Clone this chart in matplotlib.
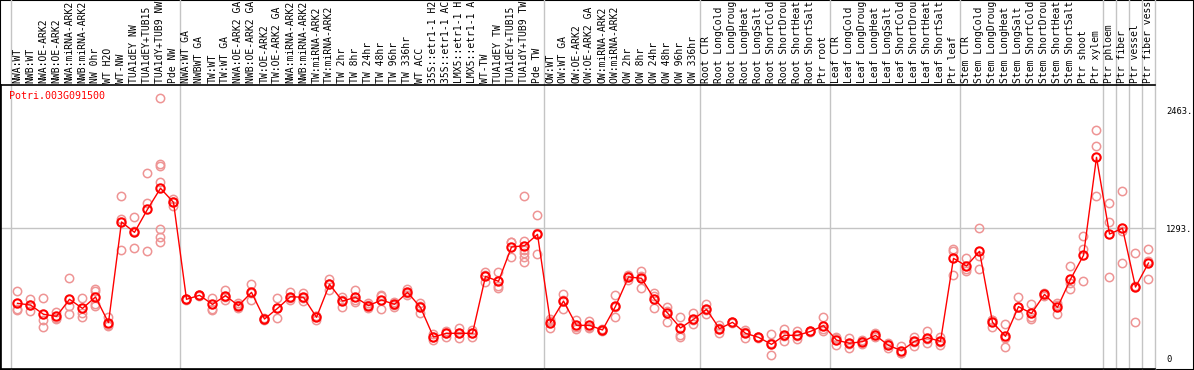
import matplotlib
matplotlib.use('Agg')
import matplotlib.pyplot as plt
import matplotlib.transforms as mtransforms
import numpy as np

gene = 'Potri.003G091500'

labels = [
    'NWA:WT', 'NWB:WT', 'NWA:OE-ARK2', 'NWB:OE-ARK2', 'NWA:miRNA-ARK2', 'NWB:miRNA-ARK2',
    'NW 0hr', 'WT H2O', 'WT-NW', 'TUA1dEY NW', 'TUA1dEY+TUB15 NW', 'TUA1dY+TUB9 NW', 'Pde NW',
    'NWA:WT GA', 'NWBWT GA', 'TW:WT', 'TW:WT GA', 'NWA:OE-ARK2 GA', 'NWB:OE-ARK2 GA',
    'TW:OE-ARK2', 'TW:OE-ARK2 GA', 'NWA:miRNA-ARK2 GA', 'NWB:miRNA-ARK2 GA', 'TW:miRNA-ARK2',
    'TW:miRNA-ARK2 GA', 'TW 2hr', 'TW 8hr', 'TW 24hr', 'TW 48hr', 'TW 96hr', 'TW 336hr',
    'WT ACC', '35S::etr1-1 H2O', '35S::etr1-1 ACC', 'LMX5::etr1-1 H2O', 'LMX5::etr1-1 ACC',
    'WT-TW', 'TUA1dEY TW', 'TUA1dEY+TUB15 TW', 'TUA1dY+TUB9 TW', 'Pde TW',
    'OW:WT', 'OW:WT GA', 'OW:OE-ARK2', 'OW:OE-ARK2 GA', 'OW:miRNA-ARK2', 'OW:miRNA-ARK2 GA',
    'OW 2hr', 'OW 8hr', 'OW 24hr', 'OW 48hr', 'OW 96hr', 'OW 336hr',
    'Root CTR', 'Root LongCold', 'Root LongDrought', 'Root LongHeat', 'Root LongSalt',
    'Root ShortCold', 'Root ShortDrought', 'Root ShortHeat', 'Root ShortSalt', 'Ptr root',
    'Leaf CTR', 'Leaf LongCold', 'Leaf LongDrought', 'Leaf LongHeat', 'Leaf LongSalt',
    'Leaf ShortCold', 'Leaf ShortDrought', 'Leaf ShortHeat', 'Leaf ShortSalt', 'Ptr leaf',
    'Stem CTR', 'Stem LongCold', 'Stem LongDrought', 'Stem LongHeat', 'Stem LongSalt',
    'Stem ShortCold', 'Stem ShortDrought', 'Stem ShortHeat', 'Stem ShortSalt', 'Ptr shoot',
    'Ptr xylem', 'Ptr phloem', 'Ptr fiber', 'Ptr vessel', 'Ptr fiber vessel',
]

group_sizes = [13, 28, 12, 10, 10, 11, 1, 1, 1, 1]

means = [
    544, 527, 435, 415, 584, 494, 607, 352, 1353, 1250, 1479, 1688, 1548,
    584, 624, 534, 620, 521, 653, 388, 494, 610, 604, 405, 733, 567, 604, 521, 577,
    534, 653, 504, 209, 246, 246, 246, 812, 763, 1104, 1117, 1230,
    352, 567, 325, 325, 279, 514, 806, 793, 584, 448, 299, 385,
    484, 292, 355, 246, 206, 136, 226, 226, 265, 322,
    179, 146, 163, 226, 126, 73, 166, 203, 166, 991,
    915, 1061, 355, 216, 511, 444, 633, 504, 783, 1021, 1996,
    1233, 1290, 706, 945,
]

reps = [
    [667, 484, 481], [587, 523, 471], [594, 378, 305], [461, 400, 385], [793, 517, 435],
    [594, 445, 405], [686, 670, 537, 521], [411, 327, 318], [1608, 1386, 1071],
    [1399, 1260, 1091], [1837, 1538, 1061], [2583, 1926, 1913, 1751, 1283, 1207, 1157],
    [1582, 1550, 1512],
    [590, 584, 577], [627, 624, 620], [594, 491, 478], [677, 606, 577], [544, 525, 494],
    [733, 650, 577], [395, 388, 380], [594, 494, 395], [653, 600, 577], [643, 600, 570],
    [420, 418, 378], [786, 736, 677], [610, 580, 511], [677, 574, 561], [544, 525, 494],
    [627, 613, 491], [561, 530, 511], [686, 646, 627], [544, 517, 451], [239, 209, 179],
    [272, 253, 213], [295, 247, 196], [279, 246, 213], [852, 828, 756], [852, 716, 700],
    [1151, 1153, 1008], [1608, 1164, 1074, 1041, 1008, 952], [1419, 1240, 1031],
    [385, 369, 302], [633, 580, 488], [378, 312, 285], [372, 308, 295], [285, 279, 273],
    [627, 510, 405], [826, 816, 776], [869, 817, 693], [643, 615, 494], [511, 471, 362],
    [411, 229, 213], [445, 375, 335],
    [537, 480, 435], [328, 302, 246], [362, 355, 348], [279, 263, 196], [210, 206, 196],
    [236, 145, 27], [292, 220, 166], [272, 217, 189], [272, 265, 258], [405, 289, 272],
    [211, 196, 130], [196, 139, 103], [179, 174, 136], [245, 226, 209], [146, 136, 96],
    [123, 49, 47], [213, 162, 123], [269, 194, 146], [206, 162, 130], [1081, 1068, 822],
    [991, 889, 865], [1290, 1018, 882], [378, 375, 312], [338, 200, 110], [604, 504, 425],
    [534, 405, 385], [650, 633, 620], [551, 526, 435], [915, 744, 690], [1214, 1084, 763],
    [2264, 2109, 1611],
    [1538, 1353, 806], [1658, 1267, 945], [1044, 716, 358], [1084, 968, 783],
]

y_ticks = [0, 1293, 2463]
y_tick_labels = ['0', '1293.', '2463.']

MAX_CHARS = 14  # the original view cuts long column names

W, H = 1194, 370
fig = plt.figure(figsize=(W / 100, H / 100), dpi=100)

# outer frame
frame = fig.add_axes([0, 0, 1, 1])
frame.set_xticks([])
frame.set_yticks([])
frame.patch.set_visible(False)
for s in frame.spines.values():
    s.set_color('black')
    s.set_linewidth(1.5)

# plot area in pixels
left, right, top, bottom = 1, 1155, 85, 369
ax = fig.add_axes([left / W, (H - bottom) / H, (right - left) / W, (bottom - top) / H])
ax.patch.set_visible(False)

pitch = 13.0
x0 = -(17.5 - left) / pitch
ax.set_xlim(x0, x0 + (right - left) / pitch)
ax.set_ylim(-109, 2715)

x = np.arange(len(means))

# group separators
bounds = np.concatenate([[0], np.cumsum(group_sizes)]) - 0.5
ymax_full = bottom / (bottom - top)
for b in bounds:
    ax.axvline(b, ymin=0, ymax=ymax_full, color='#c4c4c4', lw=1, clip_on=False, zorder=1)
ax.axhline(1293, color='#c4c4c4', lw=1, zorder=1)

# replicates
for i, r in enumerate(reps):
    ax.plot([i] * len(r), r, linestyle='none', marker='o', markersize=6,
            markerfacecolor='none', markeredgecolor='#ee9494', markeredgewidth=1.1, zorder=2)

# mean line
ax.plot(x, means, color='red', lw=1, marker='o', markersize=6,
        markerfacecolor='none', markeredgecolor='red', markeredgewidth=1.5, zorder=3)

ax.text(0.007, 0.96, gene, transform=ax.transAxes, color='red', fontsize=7.2,
        family='DejaVu Sans Mono', va='center', ha='left')

# column labels
trans = mtransforms.blended_transform_factory(ax.transData, ax.transAxes)
for i, lab in enumerate(labels):
    ax.text(i, 1 + 2 / (bottom - top), lab[:MAX_CHARS], transform=trans, rotation=90,
            ha='center', va='bottom', fontsize=7.0, family='DejaVu Sans Mono',
            clip_on=False)

ax.spines['right'].set_visible(False)
for s in ['left', 'top', 'bottom']:
    ax.spines[s].set_color('black')
    ax.spines[s].set_linewidth(1.2)

ax.set_xticks([])
ax.yaxis.tick_right()
ax.set_yticks(y_ticks)
ax.set_yticklabels(y_tick_labels, family='DejaVu Sans Mono', fontsize=6.3)
ax.tick_params(axis='y', length=0, pad=8)

fig.savefig('out.png', dpi=100)
